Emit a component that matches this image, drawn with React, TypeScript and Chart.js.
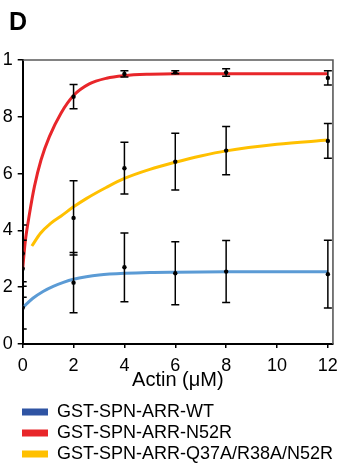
import React, { useEffect, useRef } from "react";
import { Chart, registerables } from "chart.js";

Chart.register(...registerables);

// Series names & colours
const seriesNames = ["GST-SPN-ARR-WT", "GST-SPN-ARR-N52R", "GST-SPN-ARR-Q37A/R38A/N52R"];
const legendColors = ["#2f54a3", "#e8262a", "#ffc000"];
const curveColors = ["#5b9bd5", "#e8262a", "#ffc000"];

// Measured points (Actin µM)
const actin = [0, 2, 4, 6, 8, 12];
const wtMean = [1.28, 2.16, 2.7, 2.49, 2.55, 2.46];
const wtErr = [0.75, 1.06, 1.21, 1.11, 1.09, 1.19];
const n52rMean = [2.65, 8.71, 9.51, 9.57, 9.56, 9.37];
const n52rErr = [1.0, 0.43, 0.11, 0.05, 0.13, 0.25];
const tripleMean = [3.19, 4.44, 6.19, 6.42, 6.81, 7.15];
const tripleErr = [1.0, 1.31, 0.91, 1.0, 0.85, 0.61];

// Fitted curves
const wtFitX = [0, 0.4, 0.8, 1.2, 1.6, 2, 2.5, 3, 4, 5, 6, 8, 10, 12];
const wtFitY = [1.28, 1.61, 1.85, 2.03, 2.17, 2.28, 2.37, 2.43, 2.49, 2.52, 2.53, 2.54, 2.54, 2.54];
const n52rFitX = [0, 0.1, 0.27, 0.46, 0.72, 1.05, 1.5, 2, 2.6, 3.3, 4, 5, 6, 8, 10, 12];
const n52rFitY = [2.65, 3.6, 4.6, 5.54, 6.48, 7.3, 8.12, 8.75, 9.15, 9.36, 9.45, 9.5, 9.52, 9.52, 9.52, 9.52];
const tripleFitX = [0.36, 0.7, 1.1, 1.5, 2, 2.5, 3.3, 4, 5, 6, 7, 8, 10, 12];
const tripleFitY = [3.45, 3.9, 4.25, 4.5, 4.83, 5.12, 5.52, 5.83, 6.15, 6.4, 6.62, 6.8, 7.03, 7.18];

// Axis ticks
const xTicks = [0, 2, 4, 6, 8, 10, 12];
const yTicks = [0, 2, 4, 6, 8, 10];
const yTickLabels = ["0", "2", "4", "6", "8", "1"];

const FONT = "'Liberation Sans', Arial, Helvetica, sans-serif";

const toXY = (xs: number[], ys: number[]) => xs.map((x, i) => ({ x, y: ys[i] }));

const errorBarPlugin = {
  id: "errorBars",
  afterDatasetsDraw(chart: any) {
    const { ctx, chartArea } = chart;
    const xs = chart.scales.x;
    const ys = chart.scales.y;
    ctx.save();
    ctx.beginPath();
    ctx.rect(chartArea.left, chartArea.top - 10, chartArea.right - chartArea.left, chartArea.bottom - chartArea.top + 10);
    ctx.clip();
    ctx.strokeStyle = "#000";
    ctx.lineWidth = 1.5;
    chart.data.datasets.forEach((ds: any) => {
      if (!ds.errorBars) return;
      ds.data.forEach((p: any, i: number) => {
        const e = ds.errorBars[i];
        const px = xs.getPixelForValue(p.x);
        const top = ys.getPixelForValue(p.y + e);
        const bot = ys.getPixelForValue(p.y - e);
        ctx.beginPath();
        ctx.moveTo(px, top);
        ctx.lineTo(px, bot);
        ctx.moveTo(px - 4, top);
        ctx.lineTo(px + 4, top);
        ctx.moveTo(px - 4, bot);
        ctx.lineTo(px + 4, bot);
        ctx.stroke();
      });
    });
    ctx.restore();
  },
};

const framePlugin = {
  id: "frameAndLabel",
  afterLayout(chart: any) {
    const lg = chart.legend;
    if (lg) {
      lg.left += 19;
      lg.right += 19;
      lg.top += 8;
      lg.bottom += 8;
    }
  },
  afterDraw(chart: any) {
    const { ctx, chartArea } = chart;
    ctx.save();
    ctx.strokeStyle = "#595959";
    ctx.lineWidth = 1.6;
    ctx.beginPath();
    ctx.moveTo(chartArea.left, chartArea.top);
    ctx.lineTo(chartArea.right, chartArea.top);
    ctx.lineTo(chartArea.right, chartArea.bottom);
    ctx.stroke();
    ctx.fillStyle = "#000";
    ctx.font = `bold 25px ${FONT}`;
    ctx.textBaseline = "alphabetic";
    ctx.textAlign = "left";
    ctx.fillText("D", 9, 30);
    ctx.restore();
  },
};

export default function App() {
  const ref = useRef<HTMLCanvasElement | null>(null);

  useEffect(() => {
    if (!ref.current) return;
    const curveData = [toXY(wtFitX, wtFitY), toXY(n52rFitX, n52rFitY), toXY(tripleFitX, tripleFitY)];
    const pointData = [toXY(actin, wtMean), toXY(actin, n52rMean), toXY(actin, tripleMean)];
    const errs = [wtErr, n52rErr, tripleErr];

    const datasets: any[] = [];
    curveData.forEach((d, i) => {
      datasets.push({
        label: seriesNames[i],
        data: d,
        borderColor: curveColors[i],
        backgroundColor: curveColors[i],
        borderWidth: 3,
        pointRadius: 0,
        cubicInterpolationMode: "monotone",
        fill: false,
        order: 2,
      });
    });
    pointData.forEach((d, i) => {
      datasets.push({
        label: seriesNames[i] + " data",
        data: d,
        showLine: false,
        pointRadius: 2.2,
        pointBackgroundColor: "#000",
        pointBorderWidth: 0,
        borderColor: "#000",
        backgroundColor: "#000",
        errorBars: errs[i],
        order: 1,
      });
    });

    const chart = new Chart(ref.current, {
      type: "line",
      data: { datasets },
      plugins: [errorBarPlugin, framePlugin],
      options: {
        animation: false,
        responsive: true,
        maintainAspectRatio: false,
        layout: { padding: { left: 0, right: 7.5, top: 60, bottom: 0 } },
        plugins: {
          tooltip: { enabled: false },
          title: { display: false },
          legend: {
            display: true,
            position: "bottom",
            align: "start",
            labels: {
              boxWidth: 26,
              boxHeight: 7,
              padding: 3,
              color: "#000",
              font: { family: FONT, size: 18 },
              generateLabels: () =>
                seriesNames.map((name, i) => ({
                  text: name,
                  fillStyle: legendColors[i],
                  strokeStyle: legendColors[i],
                  lineWidth: 0,
                  hidden: false,
                  datasetIndex: i,
                  fontColor: "#000",
                })),
            },
          },
        },
        scales: {
          x: {
            type: "linear",
            min: 0,
            max: 12.2,
            afterBuildTicks: (scale: any) => {
              scale.ticks = xTicks.map((v) => ({ value: v }));
            },
            afterFit: (scale: any) => {
              scale.height = 48;
            },
            grid: { drawOnChartArea: false, drawTicks: true, tickLength: 4, color: "#000", lineWidth: 1.5 },
            border: { color: "#000", width: 2 },
            ticks: {
              color: "#000",
              padding: 7,
              maxRotation: 0,
              font: { family: FONT, size: 18 },
              callback: (v: any) => String(v),
            },
            title: {
              display: true,
              text: "Actin (μM)",
              color: "#000",
              font: { family: FONT, size: 20 },
              padding: { top: 0, bottom: 0 },
            },
          },
          y: {
            type: "linear",
            min: 0,
            max: 10,
            afterBuildTicks: (scale: any) => {
              scale.ticks = yTicks.map((v) => ({ value: v }));
            },
            afterFit: (scale: any) => {
              scale.width = 22.7;
            },
            grid: { drawOnChartArea: false, drawTicks: true, tickLength: 5, color: "#000", lineWidth: 1.5 },
            border: { color: "#000", width: 2 },
            ticks: {
              color: "#000",
              padding: 5,
              font: { family: FONT, size: 18 },
              callback: (v: any) => {
                const idx = yTicks.indexOf(Number(v));
                return idx >= 0 ? yTickLabels[idx] : "";
              },
            },
          },
        },
      },
    } as any);
    return () => chart.destroy();
  }, []);

  return (
    <div style={{ position: "absolute", left: 0, top: 0, width: 345, height: 465, background: "#fff" }}>
      <canvas ref={ref} />
    </div>
  );
}
